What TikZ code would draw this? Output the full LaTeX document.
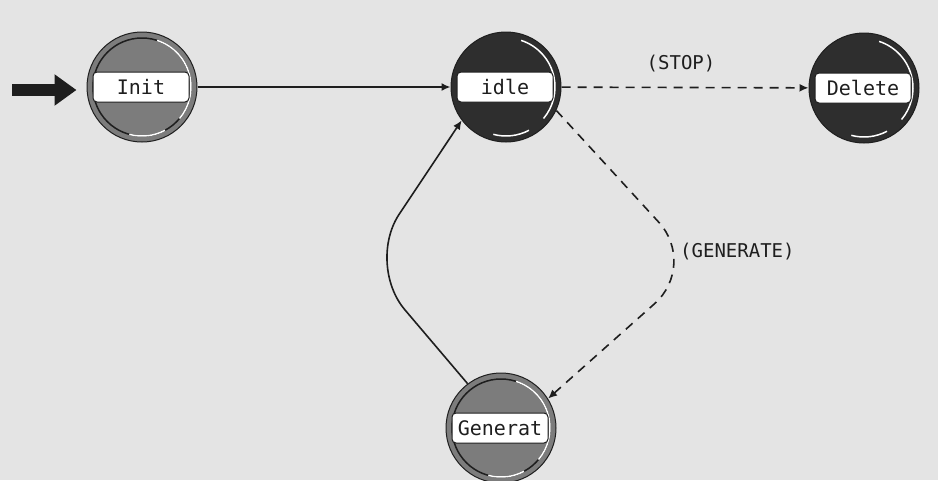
\documentclass[tikz,border=0pt]{standalone}
\usepackage{fontspec}
\newfontfamily\lblfont{DejaVu Sans Mono}
\usetikzlibrary{arrows.meta}
\definecolor{bg}{HTML}{E4E4E4}
\definecolor{stgray}{HTML}{7C7C7C}
\definecolor{stdark}{HTML}{2E2E2E}
\definecolor{ink}{HTML}{1E1E1E}
\newcommand\mkstate[6]{%
  \node[statecirc,fill=#4] (#1) at (#2,#3) {};
  \draw[#6,line width=1.5pt] (#1.center) circle[radius=49pt];
  \draw[white,line width=1.5pt] (#1.center) ++(72:49pt) arc[start angle=72,end angle=-40,radius=49pt];
  \draw[white,line width=1.5pt] (#1.center) ++(-62:49pt) arc[start angle=-62,end angle=-105,radius=49pt];
  \node[barbox] (#1bar) at ([xshift=-1pt]#1.center) {#5};
}
\begin{document}
\begin{tikzpicture}[x=1pt,y=1pt,
  statecirc/.style={circle,minimum size=110pt,inner sep=0pt,draw=ink,line width=1pt},
  barbox/.style={rounded corners=4pt,fill=white,draw=ink,line width=1pt,minimum width=96pt,minimum height=30pt,inner sep=0pt,text=ink,font=\lblfont\fontsize{20}{24}\selectfont},
  edge/.style={draw=ink,line width=1.6pt,-{Latex[length=9pt,width=8pt]}},
  dashededge/.style={edge,dash pattern=on 9pt off 7pt},
  elabel/.style={font=\lblfont\fontsize{19}{22}\selectfont,text=ink,inner sep=1pt}]
  \fill[bg] (0,0) rectangle (938,-480);
  \useasboundingbox (0,0) rectangle (938,-480);

  \mkstate{init}{142}{-87}{stgray}{Init}{ink}
  \mkstate{idle}{506}{-87}{stdark}{idle}{stdark}
  \mkstate{delete}{864}{-88}{stdark}{Delete}{stdark}
  \mkstate{gen}{501}{-428}{stgray}{Generat}{ink}

  \coordinate (s0) at (12,-90);
  \draw[ink,line width=12pt,-{Triangle[length=22pt,width=30pt]},shorten >=10pt] (s0) -- (s0 -| init.west);

  \draw[edge] (init) -- (idle);
  \draw[dashededge] (idle) -- (delete);
  \node[elabel] (stoplbl) at (681,-64) {(STOP)};

  \coordinate (bendR) at (698,-265);
  \draw[dashededge,rounded corners=58pt] (idle.-25) -- (bendR) -- (gen.32);
  \node[elabel,anchor=west] (genlbl) at (679,-252) {(GENERATE)};

  \coordinate (bendL) at (366,-264);
  \draw[edge,rounded corners=60pt] (gen.127) -- (bendL) -- (idle.217);
\end{tikzpicture}
\end{document}
